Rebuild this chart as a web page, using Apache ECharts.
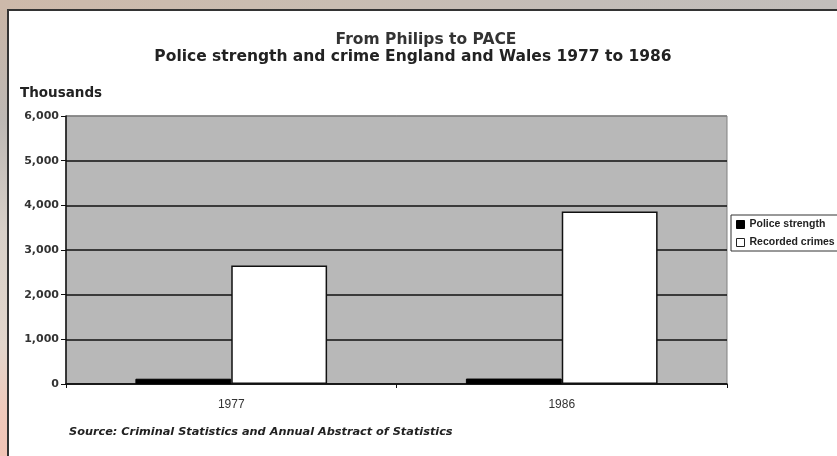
<!DOCTYPE html>
<html>
<head>
<meta charset="utf-8">
<script src="https://cdn.jsdelivr.net/npm/echarts@6/dist/echarts.min.js"></script>
<style>
  html, body { margin:0; padding:0; width:837px; height:456px; overflow:hidden; }
  body { background: linear-gradient(to right, #cdb9aa 0%, #c9bdb2 40%, #c3bdb8 70%, #c2bebb 100%); position:relative; }
  #leftstrip { position:absolute; left:0; top:10px; width:8px; height:446px;
    background: linear-gradient(to bottom, #c8b5a6 0%, #bdb8b4 25%, #d8d0c8 50%, #e2d6cc 75%, #efc9bb 90%, #f2c4b6 100%); }
  #card { position:absolute; left:7px; top:9px; width:830px; height:447px; background:#fff;
    border-left:2px solid #333; border-top:2px solid #333; box-sizing:border-box; }
  #chart { position:absolute; left:0; top:0; width:837px; height:456px; }
</style>
</head>
<body>
<div id="leftstrip"></div>
<div id="card"></div>
<div id="chart"></div>
<script>
const categories = ['1977', '1986'];
const policeStrength = [118, 122];
const recordedCrimes = [2655, 3860];
const seriesNames = ['Police strength', 'Recorded crimes'];
const titleLine1 = 'From Philips to PACE';
const titleLine2 = 'Police strength and crime England and Wales 1977 to 1986';
const yAxisTitle = 'Thousands';
const sourceText = 'Source: Criminal Statistics and Annual Abstract of Statistics';

const chart = echarts.init(document.getElementById('chart'), null, { renderer: 'canvas' });
chart.setOption({
  backgroundColor: 'transparent',
  animation: false,
  title: [
    { text: titleLine1, left: 426, top: 32, textAlign: 'center', padding: 0,
      textStyle: { fontFamily: 'DejaVu Sans', fontWeight: 'bold', fontSize: 15.5, color: '#333' } },
    { text: titleLine2, left: 413, top: 49, textAlign: 'center', padding: 0,
      textStyle: { fontFamily: 'DejaVu Sans', fontWeight: 'bold', fontSize: 15.5, color: '#222' } },
    { text: yAxisTitle, left: 20, top: 86, padding: 0,
      textStyle: { fontFamily: 'DejaVu Sans', fontWeight: 'bold', fontSize: 13.5, color: '#222' } },
    { text: sourceText, left: 69, top: 427, padding: 0,
      textStyle: { fontFamily: 'DejaVu Sans', fontWeight: 'bold', fontStyle: 'italic', fontSize: 11.3, color: '#222' } }
  ],
  legend: {
    orient: 'vertical', left: 731, top: 215,
    padding: [3, 30, 2, 5], itemGap: 5,
    itemWidth: 8, itemHeight: 8, icon: 'rect',
    borderColor: '#333', borderWidth: 1, backgroundColor: '#fff',
    textStyle: { fontFamily: 'Liberation Sans', fontWeight: 'bold', fontSize: 10.5, color: '#222', lineHeight: 13 },
    data: [
      { name: seriesNames[0], itemStyle: { color: '#000', borderColor: '#000', borderWidth: 1 } },
      { name: seriesNames[1], itemStyle: { color: '#fff', borderColor: '#222', borderWidth: 1 } }
    ]
  },
  grid: { left: 66, right: 110, top: 116, bottom: 72, show: true,
    backgroundColor: '#b8b8b8', borderColor: '#808080', borderWidth: 1 },
  xAxis: {
    type: 'category', data: categories,
    axisLine: { lineStyle: { color: '#111', width: 1.5 } },
    axisTick: { show: true, length: 4, lineStyle: { color: '#111', width: 1 } },
    axisLabel: { margin: 15, fontFamily: 'Liberation Sans', fontSize: 12, color: '#333' }
  },
  yAxis: {
    type: 'value', min: 0, max: 6000, interval: 1000,
    axisLine: { show: true, lineStyle: { color: '#111', width: 1.5 } },
    axisTick: { show: true, length: 5, lineStyle: { color: '#111', width: 1 } },
    axisLabel: { margin: 7, fontFamily: 'DejaVu Sans', fontWeight: 'bold', fontSize: 11, color: '#333',
      formatter: v => v.toLocaleString('en-US') },
    splitLine: { show: true, lineStyle: { color: ['#111','#111','#111','#111','#111','#111','#808080'], width: 1.5 } }
  },
  series: [
    { name: seriesNames[0], type: 'bar', data: policeStrength, barGap: '0%', barCategoryGap: '42%',
      itemStyle: { color: '#000', borderColor: '#000', borderWidth: 1 } },
    { name: seriesNames[1], type: 'bar', data: recordedCrimes, barGap: '0%', barCategoryGap: '42%',
      itemStyle: { color: '#fff', borderColor: '#111', borderWidth: 1.5 } }
  ]
});
</script>
</body>
</html>
